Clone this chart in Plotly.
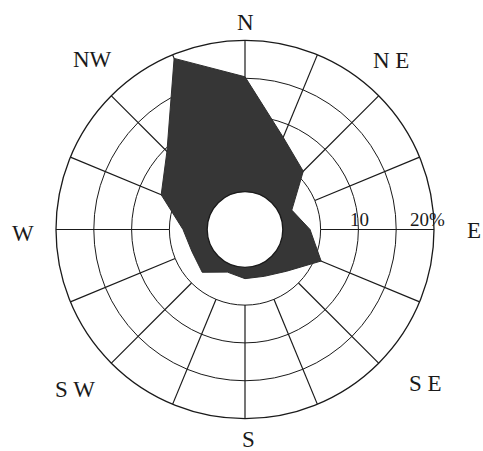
import plotly.graph_objects as go

# 16-point compass, clockwise from north
directions = ["N", "NNE", "NE", "ENE", "E", "ESE", "SE", "SSE",
              "S", "SSW", "SW", "WSW", "W", "WNW", "NW", "NNW"]
# frequency of wind from each direction (%)
frequency = [15.2, 8.2, 5.9, 1.7, 3.6, 5.9, 2.8, 1.7,
             1.5, 1.1, 3.0, 2.6, 3.2, 7.0, 9.6, 19.5]

ring_values = [5, 10, 15, 20]
compass_labels = ["N", "N E", "E", "S E", "S", "S W", "W", "NW"]

angles = [i * 22.5 for i in range(len(directions))]

fig = go.Figure()

# spokes from the 5 % ring out to the rim
for a in angles:
    fig.add_trace(go.Scatterpolar(
        r=[ring_values[0], ring_values[-1]], theta=[a, a], mode="lines",
        line=dict(color="#1a1a1a", width=1.2), hoverinfo="skip", showlegend=False))

# wind-rose polygon
fig.add_trace(go.Scatterpolar(
    r=frequency + frequency[:1], theta=angles + angles[:1],
    mode="lines", fill="toself", fillcolor="#363636",
    line=dict(color="#2e2e2e", width=1), showlegend=False))

fig.update_layout(
    width=483, height=451,
    margin=dict(l=0, r=0, t=0, b=0),
    paper_bgcolor="white", plot_bgcolor="white",
    showlegend=False,
    polar=dict(
        domain=dict(x=[56 / 483, 434 / 483], y=[32.5 / 451, 410.5 / 451]),
        hole=0.2,
        bgcolor="white",
        radialaxis=dict(range=[0, 20], tickvals=ring_values, showticklabels=False,
                        ticks="", showline=False, gridcolor="#1a1a1a", gridwidth=1.2),
        angularaxis=dict(rotation=90, direction="clockwise", showgrid=False,
                         showticklabels=False, ticks="", showline=True,
                         linecolor="#1a1a1a", linewidth=1.3),
    ),
)

serif = "Liberation Serif, Times New Roman, serif"
label_pos = [(245, 22), (391, 60), (474, 230), (425, 383),
             (248, 439), (75, 389), (23, 233), (92, 59)]
for text, (px, py) in zip(compass_labels, label_pos):
    fig.add_annotation(x=px / 483, y=1 - py / 451, xref="paper", yref="paper",
                       xanchor="center", yanchor="middle",
                       text=text, showarrow=False,
                       font=dict(family=serif, size=23, color="#1a1a1a"))

# ring value labels on the east spoke
for text, px in [("10", 359.5), ("20%", 427.5)]:
    fig.add_annotation(x=px / 483, y=1 - 219 / 451, xref="paper", yref="paper",
                       xanchor="center", yanchor="middle",
                       text=text, showarrow=False,
                       font=dict(family=serif, size=19, color="#1a1a1a"))

fig.write_html("out.html")
